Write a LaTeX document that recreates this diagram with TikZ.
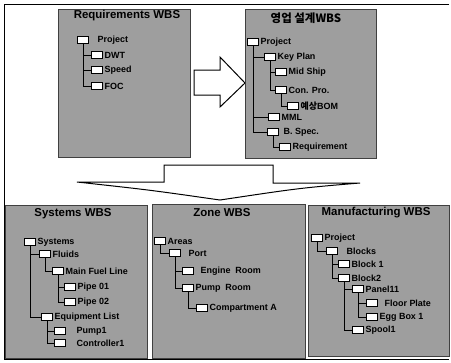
\documentclass[tikz,border=0pt]{standalone}
\usepackage{fontspec}
\setmainfont{Liberation Sans}
\newfontfamily\krfont{Noto Sans CJK KR}
\tikzset{
  wbsbox/.style={fill=black!38, draw=black!75, line width=1pt},
  leaf/.style={draw=black, fill=white, line width=0.8pt, minimum width=11bp, minimum height=7bp, inner sep=0pt},
  lbl/.style={anchor=west, inner sep=0.5bp, font=\fontsize{9}{10}\selectfont\bfseries},
  ttl/.style={font=\fontsize{11.5}{13}\selectfont\bfseries, inner sep=0pt},
  tree/.style={draw=black, line width=0.9pt},
  bigarrow/.style={draw=black, fill=white, line width=1pt, line join=miter},
  frame/.style={draw=black, line width=1pt}
}
\newcommand\witem[4][1]{\node[leaf] (#2) at (#3) {}; \node[lbl, xshift=#1bp] (#2t) at (#2.east) {#4};}
\begin{document}
\begin{tikzpicture}[x=1bp, y=-1bp]
\useasboundingbox[fill=white] (0,0) rectangle (451,362);
% outer frame
\coordinate (f1) at (4,4);
\coordinate (f2) at (449,4);
\coordinate (f3) at (4,359);
\coordinate (f4) at (449,359);
\draw[frame] (f2) -- (f1) -- (f3) -- (f4);

% ---------- Requirements WBS
\draw[wbsbox] (58,9) rectangle (190,157);
\node[ttl] (rt) at (127,16) {Requirements WBS};
\witem[8]{rP}{83,40}{Project}
\witem{rD}{97,55}{DWT}
\witem{rS}{97,70}{Speed}
\witem{rF}{97,86}{FOC}
\foreach \c in {rD,rS,rF} \draw[tree] (rP.south) |- (\c.west);

% ---------- right arrow
\draw[bigarrow] (194,70) -- (220,70) -- (220,57) -- (245,83) -- (220,107) -- (220,95) -- (194,95) -- cycle;

% ---------- Korean WBS
\draw[wbsbox] (245,9) rectangle (376,158);
\node[ttl] (kt) at (306,18) {\krfont\bfseries 영업 설계WBS};
\witem{kP}{253,42}{Project}
\witem{kK}{270,57}{Key Plan}
\witem{kM}{281,72}{Mid Ship}
\witem{kC}{281,90}{Con. Pro.}
\witem{kB}{293,106}{{\krfont\bfseries 예상}BOM}
\witem{kL}{274,117}{MML}
\witem[4]{kS}{273,132}{B. Spec.}
\witem{kR}{285,147}{Requirement}
\foreach \c in {kK,kL,kS} \draw[tree] (kP.south) |- (\c.west);
\foreach \c in {kM,kC} \draw[tree] (kK.south) |- (\c.west);
\draw[tree] (kC.south) |- (kB.west);
\draw[tree] (kS.south) |- (kR.west);

% ---------- down arrow
\draw[bigarrow] (164,165) -- (273,165) -- (273,183) -- (360,183)
  .. controls (300,188) .. (220,200) .. controls (150,190) .. (77,182) -- (164,182) -- cycle;

% ---------- Systems WBS
\draw[wbsbox] (5,205) rectangle (147,358);
\node[ttl] (st) at (73,214) {Systems WBS};
\witem{sS}{30,242}{Systems}
\witem{sF}{45,254}{Fluids}
\witem{sM}{58,271}{Main Fuel Line}
\witem{sP1}{70,287}{Pipe 01}
\witem{sP2}{70,302}{Pipe 02}
\witem{sE}{47,317}{Equipment List}
\witem[10]{sU}{60,331}{Pump1}
\witem[10]{sC}{60,343}{Controller1}
\foreach \c in {sF,sE} \draw[tree] (sS.south) |- (\c.west);
\draw[tree] (sF.south) |- (sM.west);
\foreach \c in {sP1,sP2} \draw[tree] (sM.south) |- (\c.west);
\foreach \c in {sU,sC} \draw[tree] (sE.south) |- (\c.west);

% ---------- Zone WBS
\draw[wbsbox] (152,204) rectangle (305,358);
\node[ttl] (zt) at (222,213) {Zone WBS};
\witem{zA}{160,241}{Areas}
\witem[7]{zP}{175,253}{Port}
\witem[6]{zE}{188,271}{Engine\ \ Room}
\witem{zR}{188,288}{Pump\ \ Room}
\witem{zC}{202,308}{Compartment A}
\draw[tree] (zA.south) |- (zP.west);
\foreach \c in {zE,zR} \draw[tree] (zP.south) |- (\c.west);
\draw[tree] (zR.south) |- (zC.west);

% ---------- Manufacturing WBS
\draw[wbsbox] (308,205) rectangle (449,356);
\node[ttl] (mt) at (376,213) {Manufacturing WBS};
\witem{mP}{317,238}{Project}
\witem[8]{mB}{332,251}{Blocks}
\witem{mB1}{344,264}{Block 1}
\witem{mB2}{344,278}{Block2}
\witem{mPa}{358,289}{Panel11}
\witem[6]{mF}{372,303}{Floor Plate}
\witem{mE}{372,317}{Egg Box 1}
\witem{mS}{358,330}{Spool1}
\draw[tree] (mP.south) |- (mB.west);
\foreach \c in {mB1,mB2} \draw[tree] (mB.south) |- (\c.west);
\foreach \c in {mPa,mS} \draw[tree] (mB2.south) |- (\c.west);
\foreach \c in {mF,mE} \draw[tree] (mPa.south) |- (\c.west);
\end{tikzpicture}
\end{document}
